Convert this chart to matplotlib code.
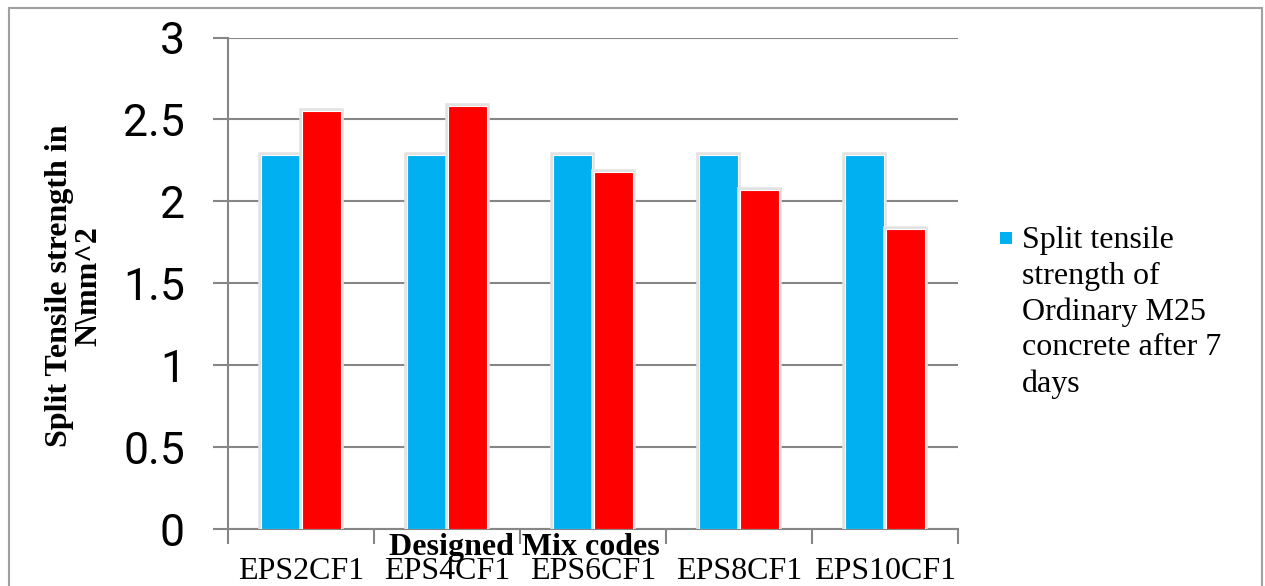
import matplotlib.pyplot as plt
import matplotlib.patheffects as pe
from matplotlib.patches import Rectangle
import numpy as np

# data
mix_codes = ['EPS2CF1', 'EPS4CF1', 'EPS6CF1', 'EPS8CF1', 'EPS10CF1']
ordinary_m25 = [2.28, 2.28, 2.28, 2.28, 2.28]
designed_mix = [2.55, 2.58, 2.18, 2.07, 1.83]
legend_label = 'Split tensile\nstrength of\nOrdinary M25\nconcrete after 7\ndays'
y_ticks = [0, 0.5, 1, 1.5, 2, 2.5, 3]

blue = '#00B0F0'
red = '#FF0000'
grid_gray = '#868686'

fig = plt.figure(figsize=(12.65, 5.86), dpi=100)
ax = fig.add_axes([228 / 1265, 1 - 529 / 586, 730 / 1265, 491.5 / 586])

x = np.arange(len(mix_codes))
w = 0.27
halo = [pe.Stroke(linewidth=4, foreground='#e2e2e2'), pe.Normal()]
b1 = ax.bar(x - 0.14, ordinary_m25, w, color=blue, edgecolor='white', linewidth=0.8, zorder=3)
b2 = ax.bar(x + 0.14, designed_mix, w, color=red, edgecolor='white', linewidth=0.8, zorder=3)
for p in list(b1) + list(b2):
    p.set_path_effects(halo)

ax.set_xlim(-0.5, len(mix_codes) - 0.5)
ax.set_ylim(0, 3)

# horizontal grid
ax.set_yticks(y_ticks)
ax.set_yticklabels([f'{t:g}' for t in y_ticks], fontfamily='Roboto', fontsize=32)
ax.yaxis.grid(True, color=grid_gray, linewidth=1.5, zorder=0)
ax.tick_params(axis='y', direction='out', length=11, width=1.5, color=grid_gray, pad=20)

# category boundaries as major ticks, labels on minor ticks
ax.set_xticks(np.arange(len(mix_codes) + 1) - 0.5)
ax.set_xticklabels([])
ax.set_xticks(x, minor=True)
ax.set_xticklabels(mix_codes, minor=True, fontfamily='Liberation Serif', fontsize=23)
ax.tick_params(axis='x', which='major', direction='out', length=11, width=1.5, color=grid_gray)
ax.tick_params(axis='x', which='minor', length=0, pad=20)

for s in ['top', 'right']:
    ax.spines[s].set_visible(False)
for s in ['left', 'bottom']:
    ax.spines[s].set_color(grid_gray)
    ax.spines[s].set_linewidth(1.5)

# axis titles
fig.text(524 / 1265, 1 - 547 / 586, 'Designed Mix codes', ha='center', va='center',
         fontfamily='Liberation Serif', fontweight='bold', fontsize=23)
fig.text(74 / 1265, 1 - 286 / 586, 'Split Tensile strength in\nN\\mm^2', ha='center', va='center',
         rotation=90, multialignment='center', linespacing=1.0,
         fontfamily='Liberation Serif', fontweight='bold', fontsize=23)

# legend (only the first series has an entry)
fig.add_artist(Rectangle((1000 / 1265, 1 - 244 / 586), 12 / 1265, 12 / 586,
                         transform=fig.transFigure, facecolor=blue, edgecolor='none'))
fig.text(1022 / 1265, 1 - 226 / 586, legend_label, ha='left', va='top', linespacing=1.3,
         fontfamily='Liberation Serif', fontsize=23)

# chart border
fig.add_artist(Rectangle((9 / 1265, -0.1), 1253 / 1265, (578 / 586) + 0.1,
                         transform=fig.transFigure, facecolor='none',
                         edgecolor='#a0a0a0', linewidth=1.5, clip_on=False))

fig.savefig('out.png', dpi=100)
